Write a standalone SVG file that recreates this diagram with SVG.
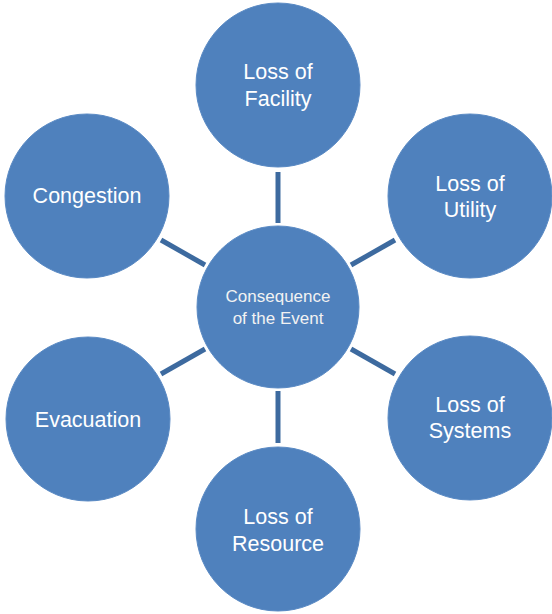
<svg xmlns="http://www.w3.org/2000/svg" width="552" height="614" viewBox="0 0 552 614">
<style>
.node circle{fill:#4f81bd;stroke:#5a8ac4;stroke-width:1}
.lbl{font-family:"Liberation Sans",Arial,sans-serif;font-size:21.5px;fill:#ffffff;text-anchor:middle}
.clbl{font-family:"Liberation Sans",Arial,sans-serif;font-size:17px;fill:#f2f2f2;text-anchor:middle}
#connectors line{stroke:#3d6a9f;stroke-width:5}
</style>
<rect width="552" height="614" fill="#ffffff"/>
<g id="connectors">
<line x1="278" y1="172" x2="278" y2="223"/>
<line x1="278" y1="391" x2="278" y2="443"/>
<line x1="161" y1="240" x2="205" y2="265"/>
<line x1="395" y1="240" x2="351" y2="265"/>
<line x1="161" y1="374" x2="205" y2="349"/>
<line x1="395" y1="374" x2="351" y2="349"/>
</g>
<g id="center" class="node"><circle cx="278" cy="307" r="81"/>
<text class="clbl" x="278" y="302">Consequence</text><text class="clbl" x="278" y="324">of the Event</text></g>
<g id="facility" class="node"><circle cx="278" cy="85" r="82"/>
<text class="lbl" x="278" y="79">Loss of</text><text class="lbl" x="278" y="106">Facility</text></g>
<g id="utility" class="node"><circle cx="470" cy="196" r="82"/>
<text class="lbl" x="470" y="191">Loss of</text><text class="lbl" x="470" y="217">Utility</text></g>
<g id="systems" class="node"><circle cx="470" cy="418" r="82"/>
<text class="lbl" x="470" y="412">Loss of</text><text class="lbl" x="470" y="438">Systems</text></g>
<g id="resource" class="node"><circle cx="278" cy="529" r="82"/>
<text class="lbl" x="278" y="524">Loss of</text><text class="lbl" x="278" y="551">Resource</text></g>
<g id="evacuation" class="node"><circle cx="88" cy="419" r="82"/>
<text class="lbl" x="88" y="427">Evacuation</text></g>
<g id="congestion" class="node"><circle cx="87" cy="196" r="82"/>
<text class="lbl" x="87" y="203">Congestion</text></g>
</svg>
